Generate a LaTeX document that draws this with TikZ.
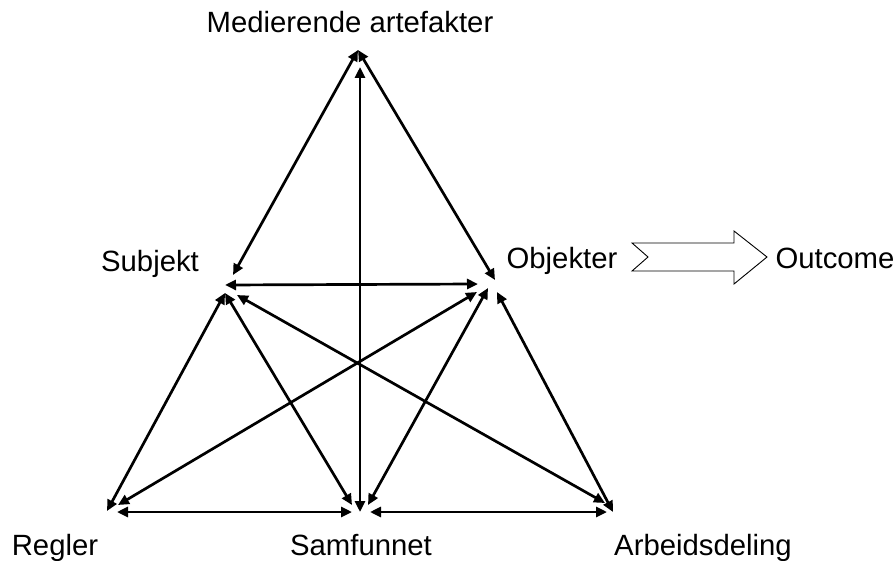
\documentclass[tikz,border=0pt]{standalone}
\usepackage{fontspec}
\setmainfont{Liberation Sans}
\usetikzlibrary{arrows.meta}
\begin{document}
\begin{tikzpicture}[x=1pt,y=-1pt,
  link/.style={line width=2.7pt,{Triangle[length=11pt,width=10pt]}-{Triangle[length=11pt,width=10pt]}},
  label/.style={font=\fontsize{29.3}{34}\selectfont,inner sep=0pt,anchor=base},
  outarrow/.style={draw=black,line width=0.9pt,fill=white,line join=miter}]
\useasboundingbox (0,0) rectangle (896,561);

% Labels
\node[label] (lm) at (350,33) {Medierende artefakter};
\node[label] (ls) at (150,271) {Subjekt};
\node[label] (lo) at (562,268) {Objekter};
\node[label] (lout) at (835,268) {Outcome};
\node[label] (lr) at (55,555) {Regler};
\node[label] (lsa) at (361,555) {Samfunnet};
\node[label] (la) at (703,555) {Arbeidsdeling};

% Arrow end points around each corner
\coordinate (m) at (358,50);
\coordinate (mv) at (360,67);
\coordinate (sm) at (233,275);
\coordinate (sh) at (225,285);
\coordinate (sl) at (225,293);
\coordinate (sa) at (237,295);
\coordinate (om) at (495,280);
\coordinate (oh) at (478,284);
\coordinate (or) at (477,292);
\coordinate (os) at (488,288);
\coordinate (oa) at (497,292);
\coordinate (rs) at (107,511);
\coordinate (ro) at (118,505);
\coordinate (rh) at (117,512);
\coordinate (qs) at (352,505);
\coordinate (qo) at (368,505);
\coordinate (qv) at (360,512);
\coordinate (ql) at (352,512);
\coordinate (qr) at (370,512);
\coordinate (as) at (605,503);
\coordinate (ao) at (613,512);
\coordinate (ah) at (607,512);

% Triangle of relations
\draw[link] (m) -- (sm);
\draw[link] (m) -- (om);
\draw[link] (mv) -- (qv);
\draw[link] (sh) -- (oh);
\draw[link] (sl) -- (rs);
\draw[link] (sl) -- (qs);
\draw[link] (sa) -- (as);
\draw[link] (or) -- (ro);
\draw[link] (os) -- (qo);
\draw[link] (oa) -- (ao);
\draw[link] (rh) -- (ql);
\draw[link] (qr) -- (ah);

% Outcome block arrow
\draw[outarrow] (632,243) -- (734,243) -- (734,231) -- (767,257) -- (734,284)
  -- (734,271) -- (632,271) -- (648,257) -- cycle;
\end{tikzpicture}
\end{document}
